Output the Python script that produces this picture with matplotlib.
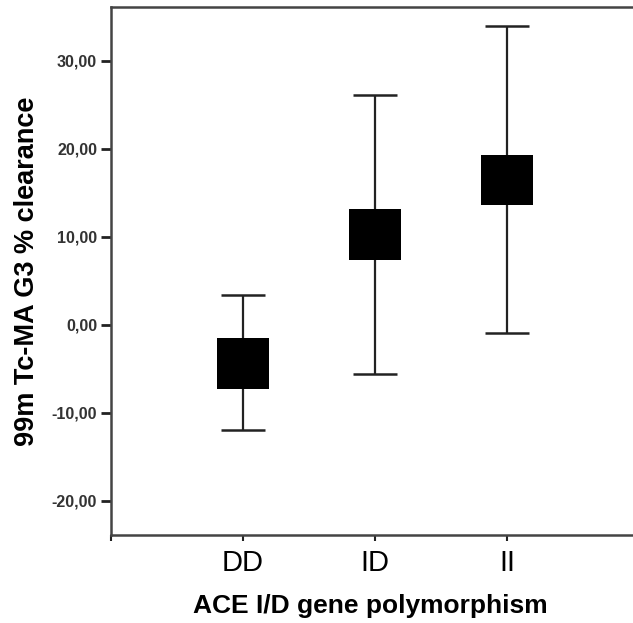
import matplotlib.pyplot as plt

plt.rcParams['font.family'] = ['Liberation Sans', 'DejaVu Sans']

# ── Data ──────────────────────────────────────────────────────────────────────
categories = ['DD', 'ID', 'II']
box_low    = [-7.3, 7.4, 13.6]
box_high   = [-1.5, 13.1, 19.3]
whisk_low  = [-12.0, -5.6, -0.9]
whisk_high = [3.4, 26.1, 33.9]
y_ticks    = [-20, -10, 0, 10, 20, 30]

xs = list(range(1, len(categories) + 1))

fig = plt.figure(figsize=(6.33, 6.23), dpi=100)
ax = fig.add_axes([0.1754, 0.1413, 0.8246, 0.8475])

# whiskers + caps (drawn under boxes)
ax.vlines(xs, whisk_low, whisk_high, color='#222222', linewidth=1.6, zorder=2)
ax.hlines(whisk_low, [x - 0.165 for x in xs], [x + 0.165 for x in xs],
          color='#222222', linewidth=1.8, zorder=2)
ax.hlines(whisk_high, [x - 0.165 for x in xs], [x + 0.165 for x in xs],
          color='#222222', linewidth=1.8, zorder=2)

# boxes
heights = [h - l for l, h in zip(box_low, box_high)]
ax.bar(xs, heights, bottom=box_low, width=0.39, color='black', zorder=3)

ax.set_xlim(0, 3.955)
ax.set_ylim(-23.9, 36.1)

ax.set_yticks(y_ticks)
ax.set_yticklabels([f'{v:.2f}'.replace('.', ',') for v in y_ticks],
                   fontsize=11.5, fontweight='bold', color='#333333')
ax.set_xticks([0] + xs)
ax.set_xticklabels([''] + categories, fontsize=21)

ax.tick_params(axis='y', direction='out', length=7, width=2, color='#222222', pad=3)
ax.tick_params(axis='x', direction='out', length=4, width=1.5, color='#222222', pad=6)

for side in ['left', 'bottom', 'top']:
    ax.spines[side].set_color('#444444')
    ax.spines[side].set_linewidth(1.8)
ax.spines['right'].set_visible(False)

ax.set_ylabel('99m Tc-MA G3 % clearance', fontsize=19.5, fontweight='bold')
ax.yaxis.set_label_coords(-0.136, 0.5)
ax.set_xlabel('ACE I/D gene polymorphism', fontsize=19, fontweight='bold')
ax.xaxis.set_label_coords(0.497, -0.112)

fig.savefig('out.png', dpi=100, facecolor='white')
